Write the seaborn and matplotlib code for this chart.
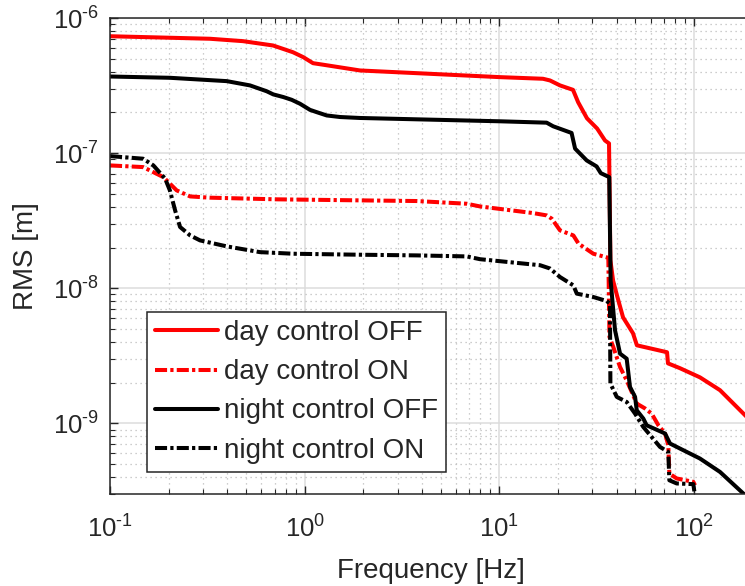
import numpy as np
import pandas as pd
import matplotlib
matplotlib.use("Agg")
import matplotlib.pyplot as plt
import matplotlib.ticker as mticker
import seaborn as sns

# ---------------- data ----------------
series_names = ["day control OFF", "day control ON",
                "night control OFF", "night control ON"]

day_off_f = [0.1, 0.326, 0.482, 0.688, 0.871, 0.984, 1.104, 1.246, 1.924, 10.08,
             16.76, 18.2, 20.5, 23.9, 25.4, 28.2, 31.8, 34.9, 36.6, 37.2, 38.4,
             40.2, 43.2, 48.6, 50.9, 72.7, 73.5, 84.7, 107.3, 136.0, 182.8, 200.0]
day_off_rms = [7.33e-7, 7.02e-7, 6.74e-7, 6.26e-7, 5.58e-7, 5.13e-7, 4.63e-7,
               4.51e-7, 4.09e-7, 3.65e-7, 3.55e-7, 3.45e-7, 3.17e-7, 2.94e-7,
               2.38e-7, 1.81e-7, 1.52e-7, 1.24e-7, 1.18e-7, 1.61e-8, 1.14e-8,
               8.86e-9, 6.09e-9, 4.64e-9, 3.78e-9, 3.36e-9, 2.78e-9, 2.56e-9,
               2.19e-9, 1.76e-9, 1.15e-9, 1.0e-9]

day_on_f = [0.1, 0.148, 0.188, 0.220, 0.258, 0.326, 0.718, 1.924, 3.76, 6.80,
            7.96, 14.9, 17.5, 18.6, 20.5, 24.0, 25.5, 30.4, 36.3, 36.8, 38.5,
            41.7, 45.1, 50.8, 56.0, 60.6, 65.6, 71.0, 73.8, 74.7, 81.5, 99.2,
            101.2]
day_on_rms = [8.11e-8, 7.88e-8, 6.64e-8, 5.30e-8, 4.78e-8, 4.68e-8, 4.55e-8,
              4.47e-8, 4.42e-8, 4.22e-8, 4.03e-8, 3.60e-8, 3.46e-8, 3.27e-8,
              2.68e-8, 2.46e-8, 2.14e-8, 1.80e-8, 1.68e-8, 4.36e-9, 3.67e-9,
              2.61e-9, 2.08e-9, 1.40e-9, 1.29e-9, 1.18e-9, 9.68e-10, 8.41e-10,
              6.89e-10, 4.25e-10, 3.91e-10, 3.69e-10, 3.48e-10]

night_off_f = [0.1, 0.203, 0.398, 0.524, 0.638, 0.690, 0.777, 0.858, 0.946,
               1.065, 1.153, 1.298, 1.519, 1.924, 10.08, 17.5, 18.9, 23.5, 24.5,
               28.1, 31.6, 33.2, 36.7, 37.3, 39.3, 41.7, 45.1, 46.9, 49.8, 50.8,
               54.9, 57.1, 71.0, 75.3, 84.7, 107.3, 136.0, 179.0, 200.0]
night_off_rms = [3.69e-7, 3.61e-7, 3.41e-7, 3.17e-7, 2.87e-7, 2.72e-7, 2.60e-7,
                 2.48e-7, 2.32e-7, 2.09e-7, 2.01e-7, 1.90e-7, 1.85e-7, 1.82e-7,
                 1.72e-7, 1.68e-7, 1.58e-7, 1.41e-7, 1.08e-7, 8.83e-8, 7.97e-8,
                 7.11e-8, 6.64e-8, 1.14e-8, 4.88e-9, 3.28e-9, 3.01e-9, 1.86e-9,
                 1.57e-9, 1.25e-9, 1.085e-9, 9.68e-10, 8.41e-10, 7.09e-10,
                 6.51e-10, 5.49e-10, 4.37e-10, 3.03e-10, 2.6e-10]

night_on_f = [0.1, 0.148, 0.167, 0.192, 0.203, 0.216, 0.229, 0.258, 0.290,
              0.398, 0.589, 0.874, 1.924, 3.76, 6.80, 7.96, 16.2, 18.2, 20.5,
              24.0, 25.0, 30.4, 35.6, 37.0, 37.2, 40.1, 45.1, 49.8, 54.9, 60.6,
              66.9, 73.8, 74.7, 81.5, 99.2, 101.2]
night_on_rms = [9.50e-8, 9.09e-8, 8.11e-8, 6.47e-8, 5.30e-8, 3.77e-8, 2.84e-8,
                2.46e-8, 2.26e-8, 2.04e-8, 1.85e-8, 1.80e-8, 1.77e-8, 1.75e-8,
                1.72e-8, 1.64e-8, 1.48e-8, 1.40e-8, 1.21e-8, 1.05e-8, 9.12e-9,
                8.61e-9, 8.04e-9, 7.69e-9, 1.97e-9, 1.57e-9, 1.44e-9, 1.18e-9,
                9.40e-10, 7.93e-10, 6.69e-10, 6.14e-10, 3.79e-10, 3.59e-10,
                3.55e-10, 2.9e-10]

x_major_ticks = [0.1, 1, 10, 100]
y_major_ticks = [1e-9, 1e-8, 1e-7, 1e-6]
x_label = "Frequency [Hz]"
y_label = "RMS [m]"

# ---------------- build table ----------------
frames = []
for name, f, r in zip(series_names,
                      [day_off_f, day_on_f, night_off_f, night_on_f],
                      [day_off_rms, day_on_rms, night_off_rms, night_on_rms]):
    frames.append(pd.DataFrame({"f": f, "rms": r, "series": name}))
df = pd.concat(frames, ignore_index=True)

# ---------------- style ----------------
sns.set_theme(style="ticks")
plt.rcParams["font.family"] = ["Liberation Sans", "DejaVu Sans"]
plt.rcParams["mathtext.fontset"] = "custom"
plt.rcParams["mathtext.rm"] = "Liberation Sans"
plt.rcParams["mathtext.it"] = "Liberation Sans:italic"
plt.rcParams["mathtext.bf"] = "Liberation Sans:bold"
plt.rcParams["axes.unicode_minus"] = False

W, H, DPI = 745, 586, 100
axcol = "#262626"
fig = plt.figure(figsize=(W / DPI, H / DPI), dpi=DPI)
ax_left, ax_bottom, ax_w, ax_h = 110, 92, 642.6, 476
ax = fig.add_axes([ax_left / W, ax_bottom / H, ax_w / W, ax_h / H])

palette = {"day control OFF": "#ff0000", "day control ON": "#ff0000",
           "night control OFF": "#000000", "night control ON": "#000000"}
dd = (3.0, 0.8, 0.8, 0.8)
dashes = {"day control OFF": "", "day control ON": dd,
          "night control OFF": "", "night control ON": dd}

sns.lineplot(data=df, x="f", y="rms", hue="series", style="series",
             hue_order=series_names, style_order=series_names,
             palette=palette, dashes=dashes, estimator=None, sort=False,
             linewidth=2.9, legend=False, ax=ax)

ax.set_xscale("log")
ax.set_yscale("log")
ax.set_xlim(0.1, 200)
ax.set_ylim(3e-10, 1e-6)
ax.set_xticks(x_major_ticks)
ax.set_yticks(y_major_ticks)


def pow_fmt(v, pos):
    n = int(round(np.log10(v)))
    if n < 0:
        return r"$\mathregular{10^{\text{-}%d}}$" % (-n)
    return r"$\mathregular{10^{%d}}$" % n


ax.xaxis.set_major_formatter(mticker.FuncFormatter(pow_fmt))
ax.yaxis.set_major_formatter(mticker.FuncFormatter(pow_fmt))
ax.xaxis.set_minor_locator(mticker.LogLocator(base=10, subs=np.arange(2, 10)))
ax.yaxis.set_minor_locator(mticker.LogLocator(base=10, subs=np.arange(2, 10)))
ax.xaxis.set_minor_formatter(mticker.NullFormatter())
ax.yaxis.set_minor_formatter(mticker.NullFormatter())

ax.set_axisbelow(True)
ax.grid(which="major", color="#dcdcdc", lw=1.1, ls="-")
ax.grid(which="minor", color="#bdbdbd", lw=0.9, ls=(0, (1, 3)))

for s in ax.spines.values():
    s.set_color(axcol)
    s.set_linewidth(1.1)

ax.tick_params(which="both", direction="in", top=True, right=True,
               color=axcol, labelcolor=axcol, labelsize=18.5)
ax.tick_params(which="major", length=6, width=1.0)
ax.tick_params(which="minor", length=3.5, width=0.8)
xpad, ypad = 8.0, 8.0
ax.tick_params(axis="x", which="major", pad=xpad)
ax.tick_params(axis="y", which="major", pad=ypad)

ax.set_xlabel(x_label, fontsize=20, color=axcol)
ax.set_ylabel(y_label, fontsize=20, color=axcol)
ax.xaxis.set_label_coords(0.5, -0.13)
ax.yaxis.set_label_coords(-0.112, 0.5)

handles = ax.get_lines()[:4]
leg = ax.legend(handles, series_names, loc="lower left",
                bbox_to_anchor=(0.0576, 0.0462), borderaxespad=0,
                fontsize=20, frameon=True, fancybox=False,
                handlelength=2.27, handletextpad=0.2, borderpad=0.3,
                labelspacing=0.475)
leg.get_frame().set_edgecolor(axcol)
leg.get_frame().set_linewidth(1.1)
leg.get_frame().set_facecolor("white")
leg.get_frame().set_alpha(1)

# ---------------- fine placement of tick labels / axis labels ----------------
px_per_pt = DPI / 72.0
fig.canvas.draw()
r = fig.canvas.get_renderer()
tops = [t.get_window_extent(r).y1 for t in ax.get_xticklabels() if t.get_text()]
cur_top = max(tops)
want_top = H - 515
xpad += (cur_top - want_top) / px_per_pt
ax.tick_params(axis="x", which="major", pad=xpad)
rights = [t.get_window_extent(r).x1 for t in ax.get_yticklabels() if t.get_text()]
cur_right = max(rights)
ypad += (cur_right - 99) / px_per_pt
ax.tick_params(axis="y", which="major", pad=ypad)
fig.canvas.draw()
lab = ax.xaxis.label
_, _, d = r.get_text_width_height_descent(lab.get_text(), lab.get_fontproperties(), ismath=False)
bb = lab.get_window_extent(r)
baseline = bb.y0 + d
want_base = H - 578
ax.xaxis.set_label_coords(0.5, -0.13 + (want_base - baseline) / ax_h)
labY = ax.yaxis.label
_, _, dY = r.get_text_width_height_descent(labY.get_text(), labY.get_fontproperties(), ismath=False)
bbY = labY.get_window_extent(r)
baseY = bbY.x1 - dY
ax.yaxis.set_label_coords(-0.112 + (33 - baseY) / ax_w, 0.5)

fig.savefig("out.png", dpi=DPI)
